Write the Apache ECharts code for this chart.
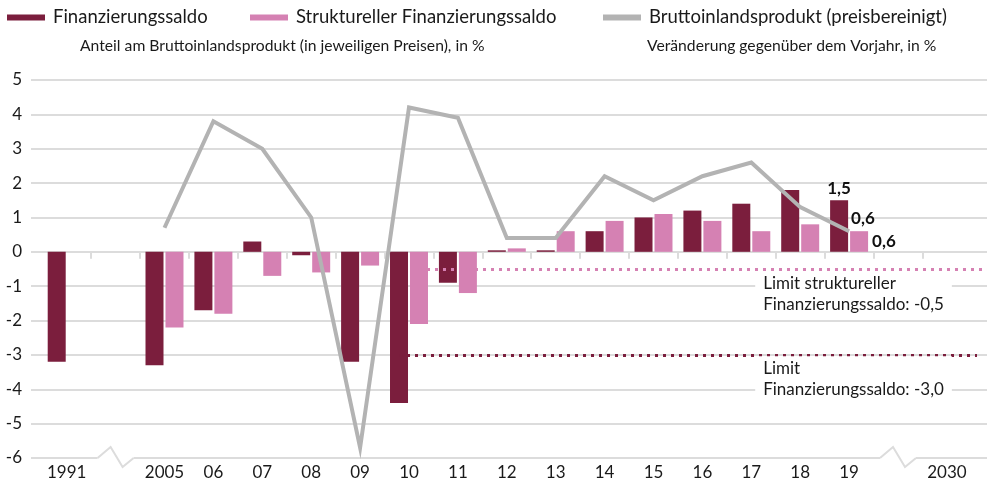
<!DOCTYPE html>
<html>
<head>
<meta charset="utf-8">
<script src="https://cdn.jsdelivr.net/npm/echarts@6/dist/echarts.min.js"></script>
<style>
  html, body { margin: 0; padding: 0; background: #fff; }
  #chart { width: 987px; height: 484px; }
</style>
</head>
<body>
<div id="chart"></div>
<script>
// Kategorien ('' = Achsenbruch)
const categories = ['1991', '', '2005', '06', '07', '08', '09', '10', '11', '12', '13', '14', '15', '16', '17', '18', '19', '', '2030'];
// Finanzierungssaldo, Anteil am BIP in %
const saldo = [-3.2, null, -3.3, -1.7, 0.3, -0.1, -3.2, -4.4, -0.9, 0.0, 0.0, 0.6, 1.0, 1.2, 1.4, 1.8, 1.5, null, null];
// struktureller Finanzierungssaldo
const strukturell = [null, null, -2.2, -1.8, -0.7, -0.6, -0.4, -2.1, -1.2, 0.1, 0.6, 0.9, 1.1, 0.9, 0.6, 0.8, 0.6, null, null];
// BIP preisbereinigt, Veränderung ggü. Vorjahr
const bip = [null, null, 0.7, 3.8, 3.0, 1.0, -5.7, 4.2, 3.9, 0.4, 0.4, 2.2, 1.5, 2.2, 2.6, 1.3, 0.6, null, null];
const yTicks = [-6, -5, -4, -3, -2, -1, 0, 1, 2, 3, 4, 5];
// Limits
const limitStrukturell = -0.5;
const limitSaldo = -3.0;
const limitStart = 7; // ab 2010

const DARK = '#7b1e3d';
const PINK = '#d581b3';
const GREY = '#b3b3b3';
const GRID = '#dcdcdc';
const FONT = 'Lato';

const lastIdx = 16;
const pairs = arr => arr.map((v, i) => v == null ? null : [i, v]).filter(d => d);
const fmt = v => String(v).replace('.', ',');

const chart = echarts.init(document.getElementById('chart'));

const xMin = -0.73, xMax = 18.82;

function legend(name, left) {
  return {
    data: [name], left: left, top: 8, padding: 0,
    icon: 'rect', itemWidth: 38, itemHeight: 6,
    textStyle: { fontFamily: FONT, fontSize: 18.5, color: '#1a1a1a', padding: [0, 0, 0, 3] }
  };
}

chart.setOption({
  animation: false,
  textStyle: { fontFamily: FONT },
  title: [
    { text: 'Anteil am Bruttoinlandsprodukt (in jeweiligen Preisen), in %', left: 80, top: 38, padding: 0,
      textStyle: { fontFamily: FONT, fontSize: 15.7, fontWeight: 'normal', color: '#1a1a1a' } },
    { text: 'Veränderung gegenüber dem Vorjahr, in %', left: 647, top: 38, padding: 0,
      textStyle: { fontFamily: FONT, fontSize: 15.7, fontWeight: 'normal', color: '#1a1a1a' } }
  ],
  legend: [
    legend('Finanzierungssaldo', 7),
    legend('Struktureller Finanzierungssaldo', 250),
    legend('Bruttoinlandsprodukt (preisbereinigt)', 603)
  ],
  grid: { left: 31, right: 0, top: 80, bottom: 26 },
  xAxis: {
    type: 'value', min: xMin, max: xMax,
    axisLine: { show: false },
    splitLine: { show: false },
    axisTick: {
      show: true, inside: false, length: 7,
      lineStyle: { color: GRID, width: 2 },
      customValues: categories.slice(1).map((c, i) => i + 0.5)
    },
    axisLabel: {
      customValues: categories.map((c, i) => c === '' ? null : i).filter(v => v != null),
      formatter: v => categories[Math.round(v)],
      fontFamily: FONT, fontSize: 17, color: '#1a1a1a', margin: 6
    }
  },
  yAxis: {
    type: 'value', min: yTicks[0], max: yTicks[yTicks.length - 1], interval: 1,
    axisLine: { show: false }, axisTick: { show: false },
    splitLine: { lineStyle: { color: GRID, width: 2 } },
    axisLabel: { fontFamily: FONT, fontSize: 17, color: '#1a1a1a', margin: 9 }
  },
  series: [
    {
      name: 'Finanzierungssaldo', type: 'bar', data: pairs(saldo),
      barWidth: 18, barGap: '11%', barMinHeight: 1.5,
      itemStyle: { color: DARK },
      label: {
        show: true, position: 'top', distance: 3,
        fontFamily: FONT, fontSize: 17, fontWeight: 'bold', color: '#111',
        formatter: p => p.value[0] === lastIdx ? fmt(p.value[1]) : ''
      },
      markLine: {
        silent: true, symbol: 'none',
        label: { show: false },
        lineStyle: { color: DARK, type: [3, 5], width: 3 },
        data: [[{ coord: [limitStart, limitSaldo] }, { coord: [xMax, limitSaldo] }]]
      }
    },
    {
      name: 'Struktureller Finanzierungssaldo', type: 'bar', data: pairs(strukturell),
      barWidth: 18, barGap: '11%',
      itemStyle: { color: PINK },
      label: {
        show: true, position: 'right', distance: 4,
        fontFamily: FONT, fontSize: 17, fontWeight: 'bold', color: '#111',
        formatter: p => p.value[0] === lastIdx ? fmt(p.value[1]) : ''
      },
      markLine: {
        silent: true, symbol: 'none',
        label: { show: false },
        lineStyle: { color: PINK, type: [3, 5], width: 3 },
        data: [[{ coord: [limitStart, limitStrukturell] }, { coord: [xMax, limitStrukturell] }]]
      }
    },
    {
      name: 'Bruttoinlandsprodukt (preisbereinigt)', type: 'line', data: pairs(bip),
      symbol: 'none', z: 3,
      lineStyle: { color: GREY, width: 4, join: 'miter' },
      itemStyle: { color: GREY },
      endLabel: {
        show: true, distance: 2, offset: [0, -13],
        fontFamily: FONT, fontSize: 17, fontWeight: 'bold', color: '#111',
        formatter: p => fmt(p.value[1])
      }
    }
  ]
});

// Achsenbrüche und Hinweise
const px = (x, y) => chart.convertToPixel({ gridIndex: 0 }, [x, y]);
const graphics = [];
categories.forEach((c, i) => {
  if (c !== '') return;
  const p = px(i, yTicks[0]);
  graphics.push({ type: 'rect', z: 10, shape: { x: p[0] - 18, y: p[1] - 3, width: 36, height: 6 }, style: { fill: '#fff' } });
  graphics.push({
    type: 'polyline', z: 11,
    shape: { points: [[p[0] - 18, p[1]], [p[0] - 5, p[1] - 11], [p[0] + 7, p[1] + 9], [p[0] + 18, p[1]]] },
    style: { stroke: GRID, lineWidth: 2, fill: null }
  });
});
const noteX = px(15, 0)[0] - 45;
const y1 = px(0, -1)[1];
const y4 = px(0, -4)[1];
const noteStyle = { font: '17px ' + FONT, fill: '#1a1a1a', lineHeight: 21, backgroundColor: '#fff', padding: [2, 8, 2, 8] };
graphics.push({
  type: 'text', z: 10, x: noteX, y: y1 - 15,
  style: Object.assign({ text: 'Limit struktureller\nFinanzierungssaldo: -0,5' }, noteStyle)
});
graphics.push({
  type: 'text', z: 10, x: noteX, y: y4 - 33,
  style: Object.assign({ text: 'Limit\nFinanzierungssaldo: -3,0' }, noteStyle)
});
chart.setOption({ graphic: graphics });
</script>
</body>
</html>
